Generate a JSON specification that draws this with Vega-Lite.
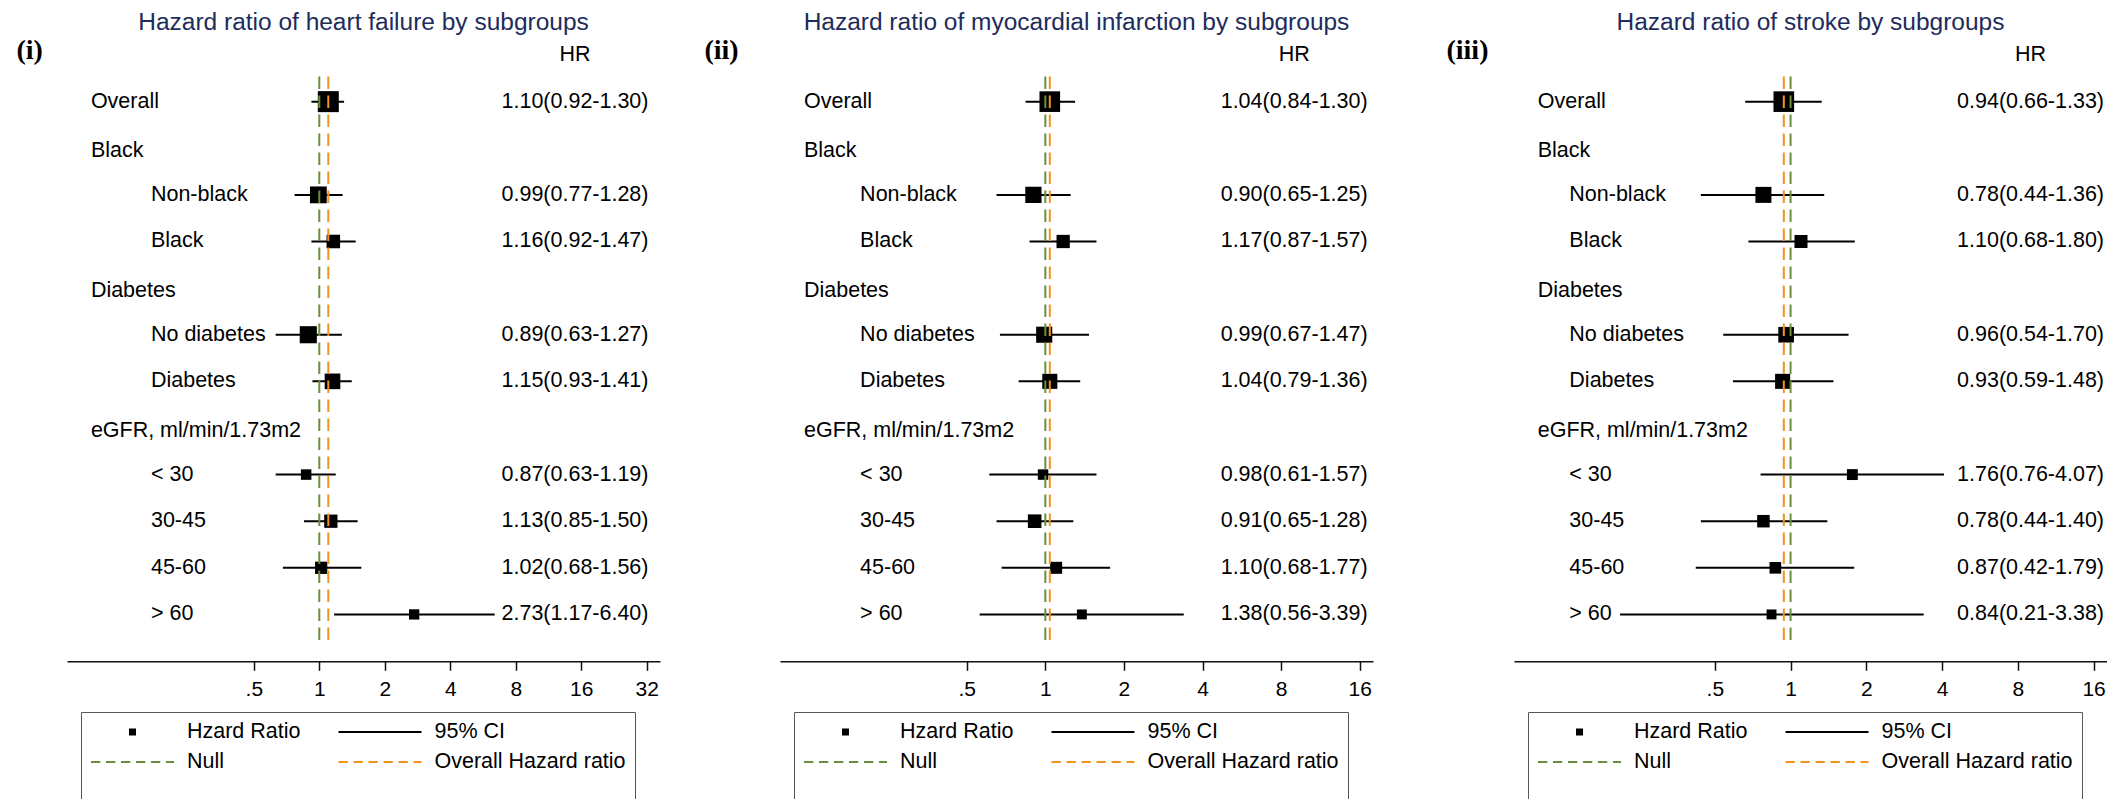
{
  "$schema": "https://vega.github.io/schema/vega-lite/v6.json",
  "background": "white",
  "padding": {"left": 16, "top": 9.3, "right": 0, "bottom": 0},
  "config": {"view": {"stroke": null}, "font": "Liberation Sans"},
  "datasets": {
    "hf": [
      {"row": 0, "label": "Overall", "level": "group", "hr": 1.10, "lcl": 0.92, "ucl": 1.30, "weight": 100},
      {"row": 1, "label": "Black", "level": "group"},
      {"row": 2, "label": "Non-black", "level": "sub", "hr": 0.99, "lcl": 0.77, "ucl": 1.28, "weight": 64},
      {"row": 3, "label": "Black", "level": "sub", "hr": 1.16, "lcl": 0.92, "ucl": 1.47, "weight": 41.6},
      {"row": 4, "label": "Diabetes", "level": "group"},
      {"row": 5, "label": "No diabetes", "level": "sub", "hr": 0.89, "lcl": 0.63, "ucl": 1.27, "weight": 66.4},
      {"row": 6, "label": "Diabetes", "level": "sub", "hr": 1.15, "lcl": 0.93, "ucl": 1.41, "weight": 55.5},
      {"row": 7, "label": "eGFR, ml/min/1.73m2", "level": "group"},
      {"row": 8, "label": "< 30", "level": "sub", "hr": 0.87, "lcl": 0.63, "ucl": 1.19, "weight": 25},
      {"row": 9, "label": "30-45", "level": "sub", "hr": 1.13, "lcl": 0.85, "ucl": 1.50, "weight": 40},
      {"row": 10, "label": "45-60", "level": "sub", "hr": 1.02, "lcl": 0.68, "ucl": 1.56, "weight": 34.2},
      {"row": 11, "label": "> 60", "level": "sub", "hr": 2.73, "lcl": 1.17, "ucl": 6.40, "weight": 24}
    ],
    "mi": [
      {"row": 0, "label": "Overall", "level": "group", "hr": 1.04, "lcl": 0.84, "ucl": 1.30, "weight": 96.5},
      {"row": 1, "label": "Black", "level": "group"},
      {"row": 2, "label": "Non-black", "level": "sub", "hr": 0.90, "lcl": 0.65, "ucl": 1.25, "weight": 60},
      {"row": 3, "label": "Black", "level": "sub", "hr": 1.17, "lcl": 0.87, "ucl": 1.57, "weight": 40},
      {"row": 4, "label": "Diabetes", "level": "group"},
      {"row": 5, "label": "No diabetes", "level": "sub", "hr": 0.99, "lcl": 0.67, "ucl": 1.47, "weight": 58.9},
      {"row": 6, "label": "Diabetes", "level": "sub", "hr": 1.04, "lcl": 0.79, "ucl": 1.36, "weight": 51.5},
      {"row": 7, "label": "eGFR, ml/min/1.73m2", "level": "group"},
      {"row": 8, "label": "< 30", "level": "sub", "hr": 0.98, "lcl": 0.61, "ucl": 1.57, "weight": 24.8},
      {"row": 9, "label": "30-45", "level": "sub", "hr": 0.91, "lcl": 0.65, "ucl": 1.28, "weight": 41.9},
      {"row": 10, "label": "45-60", "level": "sub", "hr": 1.10, "lcl": 0.68, "ucl": 1.77, "weight": 32.8},
      {"row": 11, "label": "> 60", "level": "sub", "hr": 1.38, "lcl": 0.56, "ucl": 3.39, "weight": 22.3}
    ],
    "st": [
      {"row": 0, "label": "Overall", "level": "group", "hr": 0.94, "lcl": 0.66, "ucl": 1.33, "weight": 96.5},
      {"row": 1, "label": "Black", "level": "group"},
      {"row": 2, "label": "Non-black", "level": "sub", "hr": 0.78, "lcl": 0.44, "ucl": 1.36, "weight": 58.1},
      {"row": 3, "label": "Black", "level": "sub", "hr": 1.10, "lcl": 0.68, "ucl": 1.80, "weight": 38.4},
      {"row": 4, "label": "Diabetes", "level": "group"},
      {"row": 5, "label": "No diabetes", "level": "sub", "hr": 0.96, "lcl": 0.54, "ucl": 1.70, "weight": 55.5},
      {"row": 6, "label": "Diabetes", "level": "sub", "hr": 0.93, "lcl": 0.59, "ucl": 1.48, "weight": 51.5},
      {"row": 7, "label": "eGFR, ml/min/1.73m2", "level": "group"},
      {"row": 8, "label": "< 30", "level": "sub", "hr": 1.76, "lcl": 0.76, "ucl": 4.07, "weight": 27},
      {"row": 9, "label": "30-45", "level": "sub", "hr": 0.78, "lcl": 0.44, "ucl": 1.40, "weight": 35.4},
      {"row": 10, "label": "45-60", "level": "sub", "hr": 0.87, "lcl": 0.42, "ucl": 1.79, "weight": 30.8},
      {"row": 11, "label": "> 60", "level": "sub", "hr": 0.84, "lcl": 0.21, "ucl": 3.38, "weight": 22.3}
    ],
    "legend": [
      {"item": "Hzard Ratio"},
      {"item": "95% CI"},
      {"item": "Null"},
      {"item": "Overall Hazard ratio"}
    ]
  },
  "bounds": "flush",
  "spacing": 120,
  "resolve": {
    "scale": {"color": "independent", "shape": "independent", "strokeDash": "independent", "size": "independent"},
    "legend": {"color": "independent", "shape": "independent", "strokeDash": "independent", "size": "independent"}
  },
  "hconcat": [
    {
      "width": 593,
      "height": 626,
      "title": {"text": "Hazard ratio of heart failure by subgroups", "font": "Liberation Sans", "fontSize": 24.5, "fontWeight": "normal", "color": "#1d2c5b", "anchor": "middle", "frame": "group", "baseline": "top", "offset": 0},
      "data": {"name": "hf"},
      "encoding": {
        "y": {"field": "row", "type": "quantitative", "scale": {"domain": [-1.4232, 12.0054], "reverse": true, "nice": false, "zero": false},
          "axis": {"title": "(i)", "domain": false, "ticks": false, "labels": false, "grid": false, "titleAngle": 0, "titleAlign": "left", "titleBaseline": "middle", "titleX": -51, "titleY": 15, "titleFont": "Liberation Serif", "titleFontSize": 28, "titleFontWeight": "bold", "titleColor": "black"}}
      },
      "layer": [
        {"transform": [{"filter": "isValid(datum.hr)"}], "mark": {"type": "rule", "color": "black", "strokeWidth": 2},
          "encoding": {"x": {"field": "lcl", "type": "quantitative", "scale": {"type": "log", "base": 2, "domain": [0.0692, 36.84], "nice": false},
            "axis": {"values": [0.5, 1, 2, 4, 8, 16, 32], "labelExpr": "datum.value < 1 ? '.5' : datum.label", "title": null, "grid": false, "domainColor": "#111111", "domainWidth": 1.5, "tickColor": "#111111", "tickWidth": 1.5, "tickSize": 9, "labelFontSize": 21, "labelFont": "Liberation Sans", "labelColor": "black", "labelPadding": 8, "labelFlush": false, "labelOverlap": false}},
            "x2": {"field": "ucl"}}},
        {"transform": [{"filter": "isValid(datum.hr)"}], "mark": {"type": "square", "color": "black", "opacity": 1},
          "encoding": {"x": {"field": "hr", "type": "quantitative", "scale": {"type": "log", "base": 2, "domain": [0.0692, 36.84], "nice": false},
            "axis": {"values": [0.5, 1, 2, 4, 8, 16, 32], "labelExpr": "datum.value < 1 ? '.5' : datum.label", "title": null, "grid": false, "domainColor": "#111111", "domainWidth": 1.5, "tickColor": "#111111", "tickWidth": 1.5, "tickSize": 9, "labelFontSize": 21, "labelFont": "Liberation Sans", "labelColor": "black", "labelPadding": 8, "labelFlush": false, "labelOverlap": false}},
            "size": {"field": "weight", "type": "quantitative", "scale": {"domain": [0, 100], "range": [0, 441]}, "legend": null}}},
        {"transform": [{"filter": "datum.row == 0"}], "mark": {"type": "rule", "color": "#6b8e3f", "strokeWidth": 2, "strokeDash": [12.5, 6.5]},
          "encoding": {"x": {"datum": 1, "type": "quantitative", "scale": {"type": "log", "base": 2, "domain": [0.0692, 36.84], "nice": false},
            "axis": {"values": [0.5, 1, 2, 4, 8, 16, 32], "labelExpr": "datum.value < 1 ? '.5' : datum.label", "title": null, "grid": false, "domainColor": "#111111", "domainWidth": 1.5, "tickColor": "#111111", "tickWidth": 1.5, "tickSize": 9, "labelFontSize": 21, "labelFont": "Liberation Sans", "labelColor": "black", "labelPadding": 8, "labelFlush": false, "labelOverlap": false}},
            "y": {"datum": -0.54, "type": "quantitative", "scale": {"domain": [-1.4232, 12.0054], "reverse": true, "nice": false, "zero": false},
              "axis": {"title": "(i)", "domain": false, "ticks": false, "labels": false, "grid": false, "titleAngle": 0, "titleAlign": "left", "titleBaseline": "middle", "titleX": -51, "titleY": 15, "titleFont": "Liberation Serif", "titleFontSize": 28, "titleFontWeight": "bold", "titleColor": "black"}},
            "y2": {"datum": 11.61}}},
        {"transform": [{"filter": "datum.row == 0"}], "mark": {"type": "rule", "color": "#f3921e", "strokeWidth": 2, "strokeDash": [12.5, 6.5]},
          "encoding": {"x": {"field": "hr", "type": "quantitative", "scale": {"type": "log", "base": 2, "domain": [0.0692, 36.84], "nice": false},
            "axis": {"values": [0.5, 1, 2, 4, 8, 16, 32], "labelExpr": "datum.value < 1 ? '.5' : datum.label", "title": null, "grid": false, "domainColor": "#111111", "domainWidth": 1.5, "tickColor": "#111111", "tickWidth": 1.5, "tickSize": 9, "labelFontSize": 21, "labelFont": "Liberation Sans", "labelColor": "black", "labelPadding": 8, "labelFlush": false, "labelOverlap": false}},
            "y": {"datum": -0.54, "type": "quantitative", "scale": {"domain": [-1.4232, 12.0054], "reverse": true, "nice": false, "zero": false},
              "axis": {"title": "(i)", "domain": false, "ticks": false, "labels": false, "grid": false, "titleAngle": 0, "titleAlign": "left", "titleBaseline": "middle", "titleX": -51, "titleY": 15, "titleFont": "Liberation Serif", "titleFontSize": 28, "titleFontWeight": "bold", "titleColor": "black"}},
            "y2": {"datum": 11.61}}},
        {"transform": [{"filter": "datum.level == 'group' && isValid(datum.hr)"}], "mark": {"type": "text", "align": "left", "baseline": "middle", "fontSize": 21.5, "font": "Liberation Sans", "color": "black"},
          "encoding": {"x": {"datum": 0.0891, "type": "quantitative", "scale": {"type": "log", "base": 2, "domain": [0.0692, 36.84], "nice": false},
            "axis": {"values": [0.5, 1, 2, 4, 8, 16, 32], "labelExpr": "datum.value < 1 ? '.5' : datum.label", "title": null, "grid": false, "domainColor": "#111111", "domainWidth": 1.5, "tickColor": "#111111", "tickWidth": 1.5, "tickSize": 9, "labelFontSize": 21, "labelFont": "Liberation Sans", "labelColor": "black", "labelPadding": 8, "labelFlush": false, "labelOverlap": false}},
            "text": {"field": "label", "type": "nominal"}}},
        {"transform": [{"filter": "datum.level == 'group' && !isValid(datum.hr)"}], "mark": {"type": "text", "align": "left", "baseline": "middle", "dy": 3, "fontSize": 21.5, "font": "Liberation Sans", "color": "black"},
          "encoding": {"x": {"datum": 0.0891, "type": "quantitative", "scale": {"type": "log", "base": 2, "domain": [0.0692, 36.84], "nice": false},
            "axis": {"values": [0.5, 1, 2, 4, 8, 16, 32], "labelExpr": "datum.value < 1 ? '.5' : datum.label", "title": null, "grid": false, "domainColor": "#111111", "domainWidth": 1.5, "tickColor": "#111111", "tickWidth": 1.5, "tickSize": 9, "labelFontSize": 21, "labelFont": "Liberation Sans", "labelColor": "black", "labelPadding": 8, "labelFlush": false, "labelOverlap": false}},
            "text": {"field": "label", "type": "nominal"}}},
        {"transform": [{"filter": "datum.level == 'sub'"}], "mark": {"type": "text", "align": "left", "baseline": "middle", "fontSize": 21.5, "font": "Liberation Sans", "color": "black"},
          "encoding": {"x": {"datum": 0.1683, "type": "quantitative", "scale": {"type": "log", "base": 2, "domain": [0.0692, 36.84], "nice": false},
            "axis": {"values": [0.5, 1, 2, 4, 8, 16, 32], "labelExpr": "datum.value < 1 ? '.5' : datum.label", "title": null, "grid": false, "domainColor": "#111111", "domainWidth": 1.5, "tickColor": "#111111", "tickWidth": 1.5, "tickSize": 9, "labelFontSize": 21, "labelFont": "Liberation Sans", "labelColor": "black", "labelPadding": 8, "labelFlush": false, "labelOverlap": false}},
            "text": {"field": "label", "type": "nominal"}}},
        {"transform": [{"filter": "isValid(datum.hr)"}, {"calculate": "format(datum.hr, '.2f') + '(' + format(datum.lcl, '.2f') + '-' + format(datum.ucl, '.2f') + ')'", "as": "hrtext"}],
          "mark": {"type": "text", "align": "center", "baseline": "middle", "fontSize": 21.5, "font": "Liberation Sans", "color": "black"},
          "encoding": {"x": {"datum": 14.98, "type": "quantitative", "scale": {"type": "log", "base": 2, "domain": [0.0692, 36.84], "nice": false},
            "axis": {"values": [0.5, 1, 2, 4, 8, 16, 32], "labelExpr": "datum.value < 1 ? '.5' : datum.label", "title": null, "grid": false, "domainColor": "#111111", "domainWidth": 1.5, "tickColor": "#111111", "tickWidth": 1.5, "tickSize": 9, "labelFontSize": 21, "labelFont": "Liberation Sans", "labelColor": "black", "labelPadding": 8, "labelFlush": false, "labelOverlap": false}},
            "text": {"field": "hrtext", "type": "nominal"}}},
        {"transform": [{"filter": "datum.row == 0"}], "mark": {"type": "text", "align": "center", "baseline": "middle", "fontSize": 21.5, "font": "Liberation Sans", "color": "black", "text": "HR"},
          "encoding": {"x": {"datum": 14.98, "type": "quantitative", "scale": {"type": "log", "base": 2, "domain": [0.0692, 36.84], "nice": false},
            "axis": {"values": [0.5, 1, 2, 4, 8, 16, 32], "labelExpr": "datum.value < 1 ? '.5' : datum.label", "title": null, "grid": false, "domainColor": "#111111", "domainWidth": 1.5, "tickColor": "#111111", "tickWidth": 1.5, "tickSize": 9, "labelFontSize": 21, "labelFont": "Liberation Sans", "labelColor": "black", "labelPadding": 8, "labelFlush": false, "labelOverlap": false}},
            "y": {"datum": -1, "type": "quantitative", "scale": {"domain": [-1.4232, 12.0054], "reverse": true, "nice": false, "zero": false},
              "axis": {"title": "(i)", "domain": false, "ticks": false, "labels": false, "grid": false, "titleAngle": 0, "titleAlign": "left", "titleBaseline": "middle", "titleX": -51, "titleY": 15, "titleFont": "Liberation Serif", "titleFontSize": 28, "titleFontWeight": "bold", "titleColor": "black"}}}},
        {"data": {"name": "legend"}, "transform": [{"filter": "false"}],
          "mark": {"type": "point", "filled": false, "fill": "black", "strokeWidth": 1.8, "size": 6889},
          "encoding": {
            "color": {"field": "item", "type": "nominal", "scale": {"domain": ["Hzard Ratio", "95% CI", "Null", "Overall Hazard ratio"], "range": ["black", "black", "#6b8e3f", "#f3921e"]},
              "legend": {"title": " ", "titleOrient": "bottom", "titleFontSize": 20, "titlePadding": 8, "orient": "none", "direction": "horizontal", "legendX": 14, "legendY": 676.7, "columns": 2, "columnPadding": 36.5, "rowPadding": 8, "padding": 9, "clipHeight": 22, "labelFontSize": 21.5, "labelFont": "Liberation Sans", "labelColor": "black", "labelOffset": 12, "labelLimit": 400, "symbolSize": 6889, "symbolStrokeWidth": 1.8, "symbolOpacity": 1, "strokeColor": "#555555", "fillColor": "white"}},
            "shape": {"field": "item", "type": "nominal", "scale": {"domain": ["Hzard Ratio", "95% CI", "Null", "Overall Hazard ratio"], "range": ["M-0.063,-0.063H0.063V0.063H-0.063Z", "stroke", "stroke", "stroke"]}},
            "strokeDash": {"field": "item", "type": "nominal", "scale": {"domain": ["Hzard Ratio", "95% CI", "Null", "Overall Hazard ratio"], "range": [[1, 0], [1, 0], [9.3, 5.7], [9.3, 5.7]]}}
          }}
      ]
    },
    {
      "bounds": "flush",
      "spacing": 141,
      "resolve": {
        "scale": {"color": "independent", "shape": "independent", "strokeDash": "independent", "size": "independent"},
        "legend": {"color": "independent", "shape": "independent", "strokeDash": "independent", "size": "independent"}
      },
      "hconcat": [
        {
          "width": 593,
          "height": 626,
          "title": {"text": "Hazard ratio of myocardial infarction by subgroups", "font": "Liberation Sans", "fontSize": 24.5, "fontWeight": "normal", "color": "#1d2c5b", "anchor": "middle", "frame": "group", "baseline": "top", "offset": 0},
          "data": {"name": "mi"},
          "encoding": {
            "y": {"field": "row", "type": "quantitative", "scale": {"domain": [-1.4232, 12.0054], "reverse": true, "nice": false, "zero": false},
              "axis": {"title": "(ii)", "domain": false, "ticks": false, "labels": false, "grid": false, "titleAngle": 0, "titleAlign": "left", "titleBaseline": "middle", "titleX": -76, "titleY": 15, "titleFont": "Liberation Serif", "titleFontSize": 28, "titleFontWeight": "bold", "titleColor": "black"}}
          },
          "layer": [
            {"transform": [{"filter": "isValid(datum.hr)"}], "mark": {"type": "rule", "color": "black", "strokeWidth": 2},
              "encoding": {"x": {"field": "lcl", "type": "quantitative", "scale": {"type": "log", "base": 2, "domain": [0.0963, 17.99], "nice": false},
                "axis": {"values": [0.5, 1, 2, 4, 8, 16], "labelExpr": "datum.value < 1 ? '.5' : datum.label", "title": null, "grid": false, "domainColor": "#111111", "domainWidth": 1.5, "tickColor": "#111111", "tickWidth": 1.5, "tickSize": 9, "labelFontSize": 21, "labelFont": "Liberation Sans", "labelColor": "black", "labelPadding": 8, "labelFlush": false, "labelOverlap": false}},
                "x2": {"field": "ucl"}}},
            {"transform": [{"filter": "isValid(datum.hr)"}], "mark": {"type": "square", "color": "black", "opacity": 1},
              "encoding": {"x": {"field": "hr", "type": "quantitative", "scale": {"type": "log", "base": 2, "domain": [0.0963, 17.99], "nice": false},
                "axis": {"values": [0.5, 1, 2, 4, 8, 16], "labelExpr": "datum.value < 1 ? '.5' : datum.label", "title": null, "grid": false, "domainColor": "#111111", "domainWidth": 1.5, "tickColor": "#111111", "tickWidth": 1.5, "tickSize": 9, "labelFontSize": 21, "labelFont": "Liberation Sans", "labelColor": "black", "labelPadding": 8, "labelFlush": false, "labelOverlap": false}},
                "size": {"field": "weight", "type": "quantitative", "scale": {"domain": [0, 100], "range": [0, 441]}, "legend": null}}},
            {"transform": [{"filter": "datum.row == 0"}], "mark": {"type": "rule", "color": "#6b8e3f", "strokeWidth": 2, "strokeDash": [12.5, 6.5]},
              "encoding": {"x": {"datum": 1, "type": "quantitative", "scale": {"type": "log", "base": 2, "domain": [0.0963, 17.99], "nice": false},
                "axis": {"values": [0.5, 1, 2, 4, 8, 16], "labelExpr": "datum.value < 1 ? '.5' : datum.label", "title": null, "grid": false, "domainColor": "#111111", "domainWidth": 1.5, "tickColor": "#111111", "tickWidth": 1.5, "tickSize": 9, "labelFontSize": 21, "labelFont": "Liberation Sans", "labelColor": "black", "labelPadding": 8, "labelFlush": false, "labelOverlap": false}},
                "y": {"datum": -0.54, "type": "quantitative", "scale": {"domain": [-1.4232, 12.0054], "reverse": true, "nice": false, "zero": false},
                  "axis": {"title": "(ii)", "domain": false, "ticks": false, "labels": false, "grid": false, "titleAngle": 0, "titleAlign": "left", "titleBaseline": "middle", "titleX": -76, "titleY": 15, "titleFont": "Liberation Serif", "titleFontSize": 28, "titleFontWeight": "bold", "titleColor": "black"}},
                "y2": {"datum": 11.61}}},
            {"transform": [{"filter": "datum.row == 0"}], "mark": {"type": "rule", "color": "#f3921e", "strokeWidth": 2, "strokeDash": [12.5, 6.5]},
              "encoding": {"x": {"field": "hr", "type": "quantitative", "scale": {"type": "log", "base": 2, "domain": [0.0963, 17.99], "nice": false},
                "axis": {"values": [0.5, 1, 2, 4, 8, 16], "labelExpr": "datum.value < 1 ? '.5' : datum.label", "title": null, "grid": false, "domainColor": "#111111", "domainWidth": 1.5, "tickColor": "#111111", "tickWidth": 1.5, "tickSize": 9, "labelFontSize": 21, "labelFont": "Liberation Sans", "labelColor": "black", "labelPadding": 8, "labelFlush": false, "labelOverlap": false}},
                "y": {"datum": -0.54, "type": "quantitative", "scale": {"domain": [-1.4232, 12.0054], "reverse": true, "nice": false, "zero": false},
                  "axis": {"title": "(ii)", "domain": false, "ticks": false, "labels": false, "grid": false, "titleAngle": 0, "titleAlign": "left", "titleBaseline": "middle", "titleX": -76, "titleY": 15, "titleFont": "Liberation Serif", "titleFontSize": 28, "titleFontWeight": "bold", "titleColor": "black"}},
                "y2": {"datum": 11.61}}},
            {"transform": [{"filter": "datum.level == 'group' && isValid(datum.hr)"}], "mark": {"type": "text", "align": "left", "baseline": "middle", "fontSize": 21.5, "font": "Liberation Sans", "color": "black"},
              "encoding": {"x": {"datum": 0.1190, "type": "quantitative", "scale": {"type": "log", "base": 2, "domain": [0.0963, 17.99], "nice": false},
                "axis": {"values": [0.5, 1, 2, 4, 8, 16], "labelExpr": "datum.value < 1 ? '.5' : datum.label", "title": null, "grid": false, "domainColor": "#111111", "domainWidth": 1.5, "tickColor": "#111111", "tickWidth": 1.5, "tickSize": 9, "labelFontSize": 21, "labelFont": "Liberation Sans", "labelColor": "black", "labelPadding": 8, "labelFlush": false, "labelOverlap": false}},
                "text": {"field": "label", "type": "nominal"}}},
            {"transform": [{"filter": "datum.level == 'group' && !isValid(datum.hr)"}], "mark": {"type": "text", "align": "left", "baseline": "middle", "dy": 3, "fontSize": 21.5, "font": "Liberation Sans", "color": "black"},
              "encoding": {"x": {"datum": 0.1190, "type": "quantitative", "scale": {"type": "log", "base": 2, "domain": [0.0963, 17.99], "nice": false},
                "axis": {"values": [0.5, 1, 2, 4, 8, 16], "labelExpr": "datum.value < 1 ? '.5' : datum.label", "title": null, "grid": false, "domainColor": "#111111", "domainWidth": 1.5, "tickColor": "#111111", "tickWidth": 1.5, "tickSize": 9, "labelFontSize": 21, "labelFont": "Liberation Sans", "labelColor": "black", "labelPadding": 8, "labelFlush": false, "labelOverlap": false}},
                "text": {"field": "label", "type": "nominal"}}},
            {"transform": [{"filter": "datum.level == 'sub'"}], "mark": {"type": "text", "align": "left", "baseline": "middle", "fontSize": 21.5, "font": "Liberation Sans", "color": "black"},
              "encoding": {"x": {"datum": 0.1952, "type": "quantitative", "scale": {"type": "log", "base": 2, "domain": [0.0963, 17.99], "nice": false},
                "axis": {"values": [0.5, 1, 2, 4, 8, 16], "labelExpr": "datum.value < 1 ? '.5' : datum.label", "title": null, "grid": false, "domainColor": "#111111", "domainWidth": 1.5, "tickColor": "#111111", "tickWidth": 1.5, "tickSize": 9, "labelFontSize": 21, "labelFont": "Liberation Sans", "labelColor": "black", "labelPadding": 8, "labelFlush": false, "labelOverlap": false}},
                "text": {"field": "label", "type": "nominal"}}},
            {"transform": [{"filter": "isValid(datum.hr)"}, {"calculate": "format(datum.hr, '.2f') + '(' + format(datum.lcl, '.2f') + '-' + format(datum.ucl, '.2f') + ')'", "as": "hrtext"}],
              "mark": {"type": "text", "align": "center", "baseline": "middle", "fontSize": 21.5, "font": "Liberation Sans", "color": "black"},
              "encoding": {"x": {"datum": 8.975, "type": "quantitative", "scale": {"type": "log", "base": 2, "domain": [0.0963, 17.99], "nice": false},
                "axis": {"values": [0.5, 1, 2, 4, 8, 16], "labelExpr": "datum.value < 1 ? '.5' : datum.label", "title": null, "grid": false, "domainColor": "#111111", "domainWidth": 1.5, "tickColor": "#111111", "tickWidth": 1.5, "tickSize": 9, "labelFontSize": 21, "labelFont": "Liberation Sans", "labelColor": "black", "labelPadding": 8, "labelFlush": false, "labelOverlap": false}},
                "text": {"field": "hrtext", "type": "nominal"}}},
            {"transform": [{"filter": "datum.row == 0"}], "mark": {"type": "text", "align": "center", "baseline": "middle", "fontSize": 21.5, "font": "Liberation Sans", "color": "black", "text": "HR"},
              "encoding": {"x": {"datum": 8.975, "type": "quantitative", "scale": {"type": "log", "base": 2, "domain": [0.0963, 17.99], "nice": false},
                "axis": {"values": [0.5, 1, 2, 4, 8, 16], "labelExpr": "datum.value < 1 ? '.5' : datum.label", "title": null, "grid": false, "domainColor": "#111111", "domainWidth": 1.5, "tickColor": "#111111", "tickWidth": 1.5, "tickSize": 9, "labelFontSize": 21, "labelFont": "Liberation Sans", "labelColor": "black", "labelPadding": 8, "labelFlush": false, "labelOverlap": false}},
                "y": {"datum": -1, "type": "quantitative", "scale": {"domain": [-1.4232, 12.0054], "reverse": true, "nice": false, "zero": false},
                  "axis": {"title": "(ii)", "domain": false, "ticks": false, "labels": false, "grid": false, "titleAngle": 0, "titleAlign": "left", "titleBaseline": "middle", "titleX": -76, "titleY": 15, "titleFont": "Liberation Serif", "titleFontSize": 28, "titleFontWeight": "bold", "titleColor": "black"}}}},
            {"data": {"name": "legend"}, "transform": [{"filter": "false"}],
              "mark": {"type": "point", "filled": false, "fill": "black", "strokeWidth": 1.8, "size": 6889},
              "encoding": {
                "color": {"field": "item", "type": "nominal", "scale": {"domain": ["Hzard Ratio", "95% CI", "Null", "Overall Hazard ratio"], "range": ["black", "black", "#6b8e3f", "#f3921e"]},
                  "legend": {"title": " ", "titleOrient": "bottom", "titleFontSize": 20, "titlePadding": 8, "orient": "none", "direction": "horizontal", "legendX": 14, "legendY": 676.7, "columns": 2, "columnPadding": 36.5, "rowPadding": 8, "padding": 9, "clipHeight": 22, "labelFontSize": 21.5, "labelFont": "Liberation Sans", "labelColor": "black", "labelOffset": 12, "labelLimit": 400, "symbolSize": 6889, "symbolStrokeWidth": 1.8, "symbolOpacity": 1, "strokeColor": "#555555", "fillColor": "white"}},
                "shape": {"field": "item", "type": "nominal", "scale": {"domain": ["Hzard Ratio", "95% CI", "Null", "Overall Hazard ratio"], "range": ["M-0.063,-0.063H0.063V0.063H-0.063Z", "stroke", "stroke", "stroke"]}},
                "strokeDash": {"field": "item", "type": "nominal", "scale": {"domain": ["Hzard Ratio", "95% CI", "Null", "Overall Hazard ratio"], "range": [[1, 0], [1, 0], [9.3, 5.7], [9.3, 5.7]]}}
              }}
          ]
        },
        {
          "width": 593,
          "height": 626,
          "title": {"text": "Hazard ratio of stroke by subgroups", "font": "Liberation Sans", "fontSize": 24.5, "fontWeight": "normal", "color": "#1d2c5b", "anchor": "middle", "frame": "group", "baseline": "top", "offset": 0},
          "data": {"name": "st"},
          "encoding": {
            "y": {"field": "row", "type": "quantitative", "scale": {"domain": [-1.4232, 12.0054], "reverse": true, "nice": false, "zero": false},
              "axis": {"title": "(iii)", "domain": false, "ticks": false, "labels": false, "grid": false, "titleAngle": 0, "titleAlign": "left", "titleBaseline": "middle", "titleX": -68, "titleY": 15, "titleFont": "Liberation Serif", "titleFontSize": 28, "titleFontWeight": "bold", "titleColor": "black"}}
          },
          "layer": [
            {"transform": [{"filter": "isValid(datum.hr)"}], "mark": {"type": "rule", "color": "black", "strokeWidth": 2},
              "encoding": {"x": {"field": "lcl", "type": "quantitative", "scale": {"type": "log", "base": 2, "domain": [0.0796, 18.09], "nice": false},
                "axis": {"values": [0.5, 1, 2, 4, 8, 16], "labelExpr": "datum.value < 1 ? '.5' : datum.label", "title": null, "grid": false, "domainColor": "#111111", "domainWidth": 1.5, "tickColor": "#111111", "tickWidth": 1.5, "tickSize": 9, "labelFontSize": 21, "labelFont": "Liberation Sans", "labelColor": "black", "labelPadding": 8, "labelFlush": false, "labelOverlap": false}},
                "x2": {"field": "ucl"}}},
            {"transform": [{"filter": "isValid(datum.hr)"}], "mark": {"type": "square", "color": "black", "opacity": 1},
              "encoding": {"x": {"field": "hr", "type": "quantitative", "scale": {"type": "log", "base": 2, "domain": [0.0796, 18.09], "nice": false},
                "axis": {"values": [0.5, 1, 2, 4, 8, 16], "labelExpr": "datum.value < 1 ? '.5' : datum.label", "title": null, "grid": false, "domainColor": "#111111", "domainWidth": 1.5, "tickColor": "#111111", "tickWidth": 1.5, "tickSize": 9, "labelFontSize": 21, "labelFont": "Liberation Sans", "labelColor": "black", "labelPadding": 8, "labelFlush": false, "labelOverlap": false}},
                "size": {"field": "weight", "type": "quantitative", "scale": {"domain": [0, 100], "range": [0, 441]}, "legend": null}}},
            {"transform": [{"filter": "datum.row == 0"}], "mark": {"type": "rule", "color": "#6b8e3f", "strokeWidth": 2, "strokeDash": [12.5, 6.5]},
              "encoding": {"x": {"datum": 1, "type": "quantitative", "scale": {"type": "log", "base": 2, "domain": [0.0796, 18.09], "nice": false},
                "axis": {"values": [0.5, 1, 2, 4, 8, 16], "labelExpr": "datum.value < 1 ? '.5' : datum.label", "title": null, "grid": false, "domainColor": "#111111", "domainWidth": 1.5, "tickColor": "#111111", "tickWidth": 1.5, "tickSize": 9, "labelFontSize": 21, "labelFont": "Liberation Sans", "labelColor": "black", "labelPadding": 8, "labelFlush": false, "labelOverlap": false}},
                "y": {"datum": -0.54, "type": "quantitative", "scale": {"domain": [-1.4232, 12.0054], "reverse": true, "nice": false, "zero": false},
                  "axis": {"title": "(iii)", "domain": false, "ticks": false, "labels": false, "grid": false, "titleAngle": 0, "titleAlign": "left", "titleBaseline": "middle", "titleX": -68, "titleY": 15, "titleFont": "Liberation Serif", "titleFontSize": 28, "titleFontWeight": "bold", "titleColor": "black"}},
                "y2": {"datum": 11.61}}},
            {"transform": [{"filter": "datum.row == 0"}], "mark": {"type": "rule", "color": "#f3921e", "strokeWidth": 2, "strokeDash": [12.5, 6.5]},
              "encoding": {"x": {"field": "hr", "type": "quantitative", "scale": {"type": "log", "base": 2, "domain": [0.0796, 18.09], "nice": false},
                "axis": {"values": [0.5, 1, 2, 4, 8, 16], "labelExpr": "datum.value < 1 ? '.5' : datum.label", "title": null, "grid": false, "domainColor": "#111111", "domainWidth": 1.5, "tickColor": "#111111", "tickWidth": 1.5, "tickSize": 9, "labelFontSize": 21, "labelFont": "Liberation Sans", "labelColor": "black", "labelPadding": 8, "labelFlush": false, "labelOverlap": false}},
                "y": {"datum": -0.54, "type": "quantitative", "scale": {"domain": [-1.4232, 12.0054], "reverse": true, "nice": false, "zero": false},
                  "axis": {"title": "(iii)", "domain": false, "ticks": false, "labels": false, "grid": false, "titleAngle": 0, "titleAlign": "left", "titleBaseline": "middle", "titleX": -68, "titleY": 15, "titleFont": "Liberation Serif", "titleFontSize": 28, "titleFontWeight": "bold", "titleColor": "black"}},
                "y2": {"datum": 11.61}}},
            {"transform": [{"filter": "datum.level == 'group' && isValid(datum.hr)"}], "mark": {"type": "text", "align": "left", "baseline": "middle", "fontSize": 21.5, "font": "Liberation Sans", "color": "black"},
              "encoding": {"x": {"datum": 0.0989, "type": "quantitative", "scale": {"type": "log", "base": 2, "domain": [0.0796, 18.09], "nice": false},
                "axis": {"values": [0.5, 1, 2, 4, 8, 16], "labelExpr": "datum.value < 1 ? '.5' : datum.label", "title": null, "grid": false, "domainColor": "#111111", "domainWidth": 1.5, "tickColor": "#111111", "tickWidth": 1.5, "tickSize": 9, "labelFontSize": 21, "labelFont": "Liberation Sans", "labelColor": "black", "labelPadding": 8, "labelFlush": false, "labelOverlap": false}},
                "text": {"field": "label", "type": "nominal"}}},
            {"transform": [{"filter": "datum.level == 'group' && !isValid(datum.hr)"}], "mark": {"type": "text", "align": "left", "baseline": "middle", "dy": 3, "fontSize": 21.5, "font": "Liberation Sans", "color": "black"},
              "encoding": {"x": {"datum": 0.0989, "type": "quantitative", "scale": {"type": "log", "base": 2, "domain": [0.0796, 18.09], "nice": false},
                "axis": {"values": [0.5, 1, 2, 4, 8, 16], "labelExpr": "datum.value < 1 ? '.5' : datum.label", "title": null, "grid": false, "domainColor": "#111111", "domainWidth": 1.5, "tickColor": "#111111", "tickWidth": 1.5, "tickSize": 9, "labelFontSize": 21, "labelFont": "Liberation Sans", "labelColor": "black", "labelPadding": 8, "labelFlush": false, "labelOverlap": false}},
                "text": {"field": "label", "type": "nominal"}}},
            {"transform": [{"filter": "datum.level == 'sub'"}], "mark": {"type": "text", "align": "left", "baseline": "middle", "fontSize": 21.5, "font": "Liberation Sans", "color": "black"},
              "encoding": {"x": {"datum": 0.1321, "type": "quantitative", "scale": {"type": "log", "base": 2, "domain": [0.0796, 18.09], "nice": false},
                "axis": {"values": [0.5, 1, 2, 4, 8, 16], "labelExpr": "datum.value < 1 ? '.5' : datum.label", "title": null, "grid": false, "domainColor": "#111111", "domainWidth": 1.5, "tickColor": "#111111", "tickWidth": 1.5, "tickSize": 9, "labelFontSize": 21, "labelFont": "Liberation Sans", "labelColor": "black", "labelPadding": 8, "labelFlush": false, "labelOverlap": false}},
                "text": {"field": "label", "type": "nominal"}}},
            {"transform": [{"filter": "isValid(datum.hr)"}, {"calculate": "format(datum.hr, '.2f') + '(' + format(datum.lcl, '.2f') + '-' + format(datum.ucl, '.2f') + ')'", "as": "hrtext"}],
              "mark": {"type": "text", "align": "center", "baseline": "middle", "fontSize": 21.5, "font": "Liberation Sans", "color": "black"},
              "encoding": {"x": {"datum": 8.987, "type": "quantitative", "scale": {"type": "log", "base": 2, "domain": [0.0796, 18.09], "nice": false},
                "axis": {"values": [0.5, 1, 2, 4, 8, 16], "labelExpr": "datum.value < 1 ? '.5' : datum.label", "title": null, "grid": false, "domainColor": "#111111", "domainWidth": 1.5, "tickColor": "#111111", "tickWidth": 1.5, "tickSize": 9, "labelFontSize": 21, "labelFont": "Liberation Sans", "labelColor": "black", "labelPadding": 8, "labelFlush": false, "labelOverlap": false}},
                "text": {"field": "hrtext", "type": "nominal"}}},
            {"transform": [{"filter": "datum.row == 0"}], "mark": {"type": "text", "align": "center", "baseline": "middle", "fontSize": 21.5, "font": "Liberation Sans", "color": "black", "text": "HR"},
              "encoding": {"x": {"datum": 8.987, "type": "quantitative", "scale": {"type": "log", "base": 2, "domain": [0.0796, 18.09], "nice": false},
                "axis": {"values": [0.5, 1, 2, 4, 8, 16], "labelExpr": "datum.value < 1 ? '.5' : datum.label", "title": null, "grid": false, "domainColor": "#111111", "domainWidth": 1.5, "tickColor": "#111111", "tickWidth": 1.5, "tickSize": 9, "labelFontSize": 21, "labelFont": "Liberation Sans", "labelColor": "black", "labelPadding": 8, "labelFlush": false, "labelOverlap": false}},
                "y": {"datum": -1, "type": "quantitative", "scale": {"domain": [-1.4232, 12.0054], "reverse": true, "nice": false, "zero": false},
                  "axis": {"title": "(iii)", "domain": false, "ticks": false, "labels": false, "grid": false, "titleAngle": 0, "titleAlign": "left", "titleBaseline": "middle", "titleX": -68, "titleY": 15, "titleFont": "Liberation Serif", "titleFontSize": 28, "titleFontWeight": "bold", "titleColor": "black"}}}},
            {"data": {"name": "legend"}, "transform": [{"filter": "false"}],
              "mark": {"type": "point", "filled": false, "fill": "black", "strokeWidth": 1.8, "size": 6889},
              "encoding": {
                "color": {"field": "item", "type": "nominal", "scale": {"domain": ["Hzard Ratio", "95% CI", "Null", "Overall Hazard ratio"], "range": ["black", "black", "#6b8e3f", "#f3921e"]},
                  "legend": {"title": " ", "titleOrient": "bottom", "titleFontSize": 20, "titlePadding": 8, "orient": "none", "direction": "horizontal", "legendX": 14, "legendY": 676.7, "columns": 2, "columnPadding": 36.5, "rowPadding": 8, "padding": 9, "clipHeight": 22, "labelFontSize": 21.5, "labelFont": "Liberation Sans", "labelColor": "black", "labelOffset": 12, "labelLimit": 400, "symbolSize": 6889, "symbolStrokeWidth": 1.8, "symbolOpacity": 1, "strokeColor": "#555555", "fillColor": "white"}},
                "shape": {"field": "item", "type": "nominal", "scale": {"domain": ["Hzard Ratio", "95% CI", "Null", "Overall Hazard ratio"], "range": ["M-0.063,-0.063H0.063V0.063H-0.063Z", "stroke", "stroke", "stroke"]}},
                "strokeDash": {"field": "item", "type": "nominal", "scale": {"domain": ["Hzard Ratio", "95% CI", "Null", "Overall Hazard ratio"], "range": [[1, 0], [1, 0], [9.3, 5.7], [9.3, 5.7]]}}
              }}
          ]
        }
      ]
    }
  ]
}
